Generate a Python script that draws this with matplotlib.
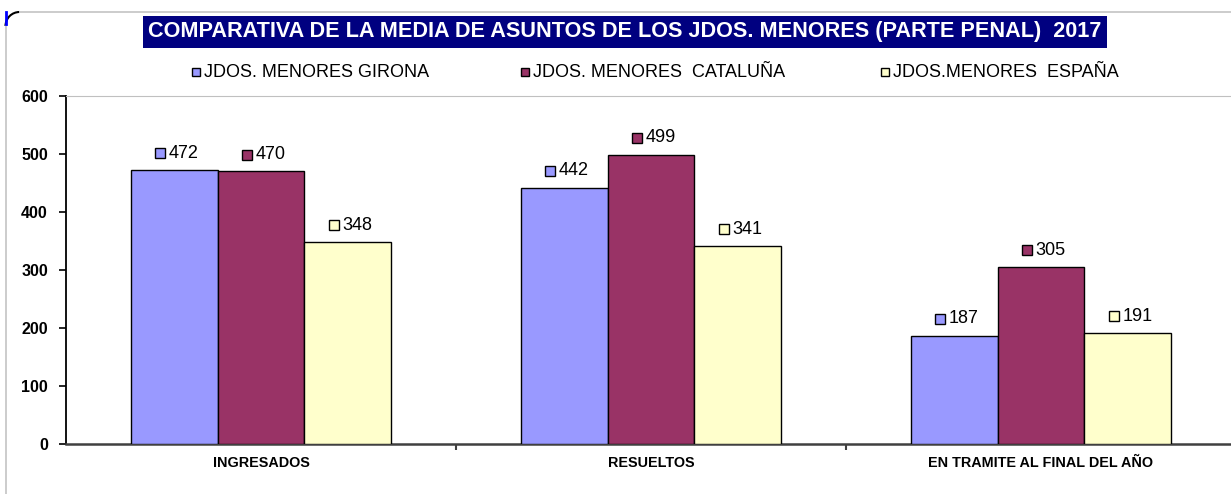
import numpy as np
import matplotlib.pyplot as plt
from matplotlib.patches import Rectangle, Arc

plt.rcParams['font.family'] = ['Liberation Sans', 'DejaVu Sans']

# data
categories = ['INGRESADOS', 'RESUELTOS', 'EN TRAMITE AL FINAL DEL AÑO']
series_names = ['JDOS. MENORES GIRONA', 'JDOS. MENORES  CATALUÑA', 'JDOS.MENORES  ESPAÑA']
girona = [472, 442, 187]
cataluna = [470, 499, 305]
espana = [348, 341, 191]
colors = ['#9999ff', '#993366', '#ffffcc']
title = 'COMPARATIVA DE LA MEDIA DE ASUNTOS DE LOS JDOS. MENORES (PARTE PENAL)  2017'

W, H = 1231, 494
fig = plt.figure(figsize=(W / 100, H / 100), dpi=100)

# overlay in pixel coords for the chart frame (y goes down)
bg = fig.add_axes([0, 0, 1, 1])
bg.set_xlim(0, W)
bg.set_ylim(H, 0)
bg.axis('off')
r = 14
bg.plot([5.5 + r, W], [12, 12], color='#c8c8c8', lw=1.3)
bg.plot([5.5, 5.5], [12 + r, H], color='#c8c8c8', lw=1.3)
bg.add_patch(Arc((5.5 + r, 12 + r), 2 * r, 2 * r, theta1=180, theta2=270, color='black', lw=1.5))
bg.plot([6, 6], [12, 24], color='#0000ff', lw=2)

ax = fig.add_axes([66 / W, (H - 444) / H, 1170 / W, 348 / H])

x = np.arange(len(categories))
w = 0.223
allvals = [girona, cataluna, espana]
for i, vals in enumerate(allvals):
    pos = x + (i - 1) * w
    ax.bar(pos, vals, width=w, color=colors[i], edgecolor='black', linewidth=1.0, zorder=3)
    for px, v in zip(pos, vals):
        ax.plot(px - 0.037, v + 29, marker='s', ms=6.5, mfc=colors[i], mec='black', mew=1.0,
                ls='none', zorder=4, clip_on=False)
        ax.text(px - 0.014, v + 29, str(v), ha='left', va='center', fontsize=13, color='black')

ax.set_xlim(-0.5, 2.5)
ax.set_ylim(0, 600)
ax.set_yticks(range(0, 601, 100))
ax.set_yticklabels([str(t) for t in range(0, 601, 100)], fontweight='bold', fontsize=11.5)
ax.tick_params(axis='y', direction='out', length=5, width=1.2, color='black', pad=8)

ax.set_xticks([0.5, 1.5])
ax.set_xticklabels(['', ''])
ax.tick_params(axis='x', direction='out', length=4, width=1.5, color='#404040')
for xi, c in zip(x, categories):
    ax.text(xi, -32, c, ha='center', va='center', fontsize=10.4, fontweight='bold')

ax.spines['right'].set_visible(False)
ax.spines['top'].set_color('#c0c0c0')
ax.spines['left'].set_linewidth(1.3)
ax.spines['bottom'].set_linewidth(1.8)
ax.spines['bottom'].set_color('#404040')

# title
fig.text(625 / W, 1 - 32 / H, title, ha='center', va='center', color='white',
         fontsize=15.6, fontweight='bold',
         bbox=dict(boxstyle='square,pad=0.24', facecolor='#000080', edgecolor='none'))

# legend
leg_x = [196, 525, 885]
for lx, name, col in zip(leg_x, series_names, colors):
    fig.patches.append(Rectangle(((lx - 4) / W, 1 - 76 / H), 8 / W, 8 / H,
                                 transform=fig.transFigure, facecolor=col,
                                 edgecolor='black', linewidth=1.0))
    fig.text((lx + 8) / W, 1 - 72 / H, name, ha='left', va='center', fontsize=13)

fig.savefig('out.png', dpi=100)
